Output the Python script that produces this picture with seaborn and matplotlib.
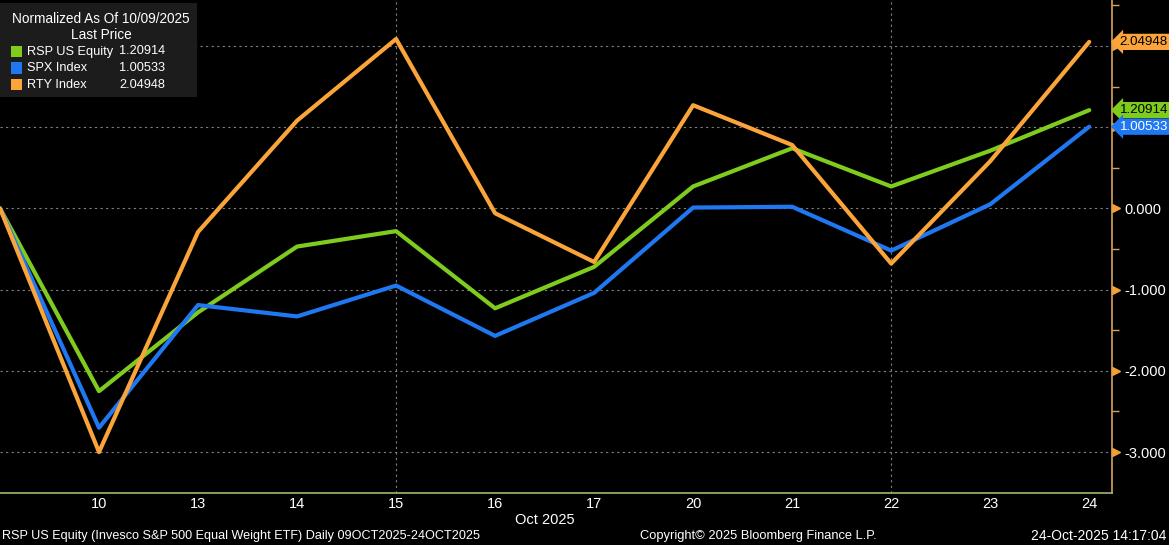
import matplotlib
matplotlib.use('Agg')
import matplotlib.pyplot as plt
import matplotlib.patches as mpatches
import pandas as pd
import seaborn as sns

# Data (normalized change, %)
days = ['09', '10', '13', '14', '15', '16', '17', '20', '21', '22', '23', '24']
series_names = ['RSP US Equity', 'SPX Index', 'RTY Index']
rsp = [0, -2.25, -1.28, -0.47, -0.28, -1.23, -0.72, 0.27, 0.74, 0.27, 0.71, 1.20914]
spx = [0, -2.70, -1.19, -1.33, -0.95, -1.57, -1.04, 0.01, 0.02, -0.52, 0.05, 1.00533]
rty = [0, -3.00, -0.29, 1.08, 2.085, -0.06, -0.66, 1.27, 0.78, -0.68, 0.58, 2.04948]
last_labels = ['1.20914', '1.00533', '2.04948']
y_ticks = [-3, -2, -1, 0, 1, 2]
grid_days = ['15', '22']

colors = ['#7fcc1f', '#1f78f2', '#fba43a']
tag_text = ['black', 'white', 'black']

df = pd.DataFrame({
    'pos': list(range(len(days))) * 3,
    'value': rsp + spx + rty,
    'series': [s for s in series_names for _ in days],
})

sns.set_theme(style='dark')
plt.rcParams['font.family'] = ['Liberation Sans', 'DejaVu Sans']

W, H = 1169, 545
fig = plt.figure(figsize=(W / 100, H / 100), dpi=100, facecolor='black')
ax = fig.add_axes([0, 1 - 492.7 / H, 1112 / W, 492.7 / H])
ax.set_facecolor('black')

sns.lineplot(data=df, x='pos', y='value', hue='series', hue_order=series_names,
             palette=colors, linewidth=3, legend=False, ax=ax)

ax.set_xlim(0, len(days) - 1 + 0.23)
ax.set_ylim(-3.5, 2.565)

# gridlines
for v in y_ticks:
    ax.axhline(v, color='#808080', lw=0.8, ls=(0, (2, 3)), zorder=0)
for d in grid_days:
    ax.axvline(days.index(d), color='#808080', lw=0.8, ls=(0, (2, 3)), zorder=0)
ax.grid(False)

# spines
for s in ['left', 'top']:
    ax.spines[s].set_visible(False)
ax.spines['right'].set_color('#d8a25a')
ax.spines['right'].set_linewidth(1.2)
ax.spines['bottom'].set_color('#9cba6c')
ax.spines['bottom'].set_linewidth(1.2)

# x axis
ax.set_xticks(range(len(days)), [''] + days[1:])
ax.tick_params(axis='x', colors='#9cba6c', labelcolor='white', direction='in',
               length=4, width=1, labelsize=10.5, pad=3)
ax.set_xlabel('Oct 2025', color='white', fontsize=10.5)
ax.xaxis.set_label_coords(545 / 1112, -20 / 492.7)

# right y axis
ax.yaxis.tick_right()
ax.set_yticks(y_ticks, [f'{v:.3f}' if v <= 0 else '' for v in y_ticks])
ax.set_yticks([v + 0.5 for v in range(-4, 3) if -3.5 < v + 0.5 < 2.56], minor=True)
ax.tick_params(axis='y', which='major', length=0, pad=9, labelcolor='white', labelsize=10.5)
ax.tick_params(axis='y', which='minor', length=5, width=1, color='#d8a25a', direction='out')
ax.set_ylabel('')
ax.plot([1.0035] * len(y_ticks), y_ticks, ls='none', marker='>', ms=6,
        color='#f5a030', transform=ax.get_yaxis_transform(), clip_on=False)

# last value tags
for val, lab, c, tc in zip([rsp[-1], spx[-1], rty[-1]], last_labels, colors, tag_text):
    ax.annotate(lab, xy=(1, val), xycoords=ax.get_yaxis_transform(),
                xytext=(5.5, 0), textcoords='offset points', va='center', ha='left',
                color=tc, fontsize=9.6, annotation_clip=False,
                bbox=dict(boxstyle='larrow,pad=0.16', fc=c, ec='none'))

# legend box
def px(x, y):
    return x / 1112, 1 - y / 492.7

bx0, by1 = px(0, 97)
bx1, by0 = px(197, 3)
ax.add_patch(mpatches.Rectangle((bx0, by1), bx1 - bx0, by0 - by1, transform=ax.transAxes,
                                fc='#1c1c1c', ec='none', zorder=5))
ax.text(*px(101, 19), 'Normalized As Of 10/09/2025', transform=ax.transAxes,
        ha='center', va='center', color='white', fontsize=9.8, zorder=6)
ax.text(*px(101, 35), 'Last Price', transform=ax.transAxes,
        ha='center', va='center', color='white', fontsize=9.8, zorder=6)
for i, (name, lab, c) in enumerate(zip(series_names, last_labels, colors)):
    yy = 51.5 + i * 16.5
    sx, sy = px(11, yy + 5.5)
    sw = 11 / 1112
    sh = 11 / 492.7
    ax.add_patch(mpatches.Rectangle((sx, sy), sw, sh, transform=ax.transAxes,
                                    fc=c, ec='none', zorder=6))
    ax.text(*px(27, yy), name, transform=ax.transAxes, ha='left', va='center',
            color='white', fontsize=9.2, zorder=6)
    ax.text(*px(165, yy), lab, transform=ax.transAxes, ha='right', va='center',
            color='white', fontsize=9.2, zorder=6)

# footer
fig.text(2 / W, 1 - 536 / H, 'RSP US Equity (Invesco S&P 500 Equal Weight ETF) Daily 09OCT2025-24OCT2025',
         color='white', fontsize=9.1, va='center', ha='left')
fig.text(758 / W, 1 - 536 / H, 'Copyright© 2025 Bloomberg Finance L.P.',
         color='white', fontsize=9.3, va='center', ha='center')
fig.text(1166 / W, 1 - 536 / H, '24-Oct-2025 14:17:04',
         color='white', fontsize=10, va='center', ha='right')

fig.savefig('out.png', dpi=100, facecolor='black')
